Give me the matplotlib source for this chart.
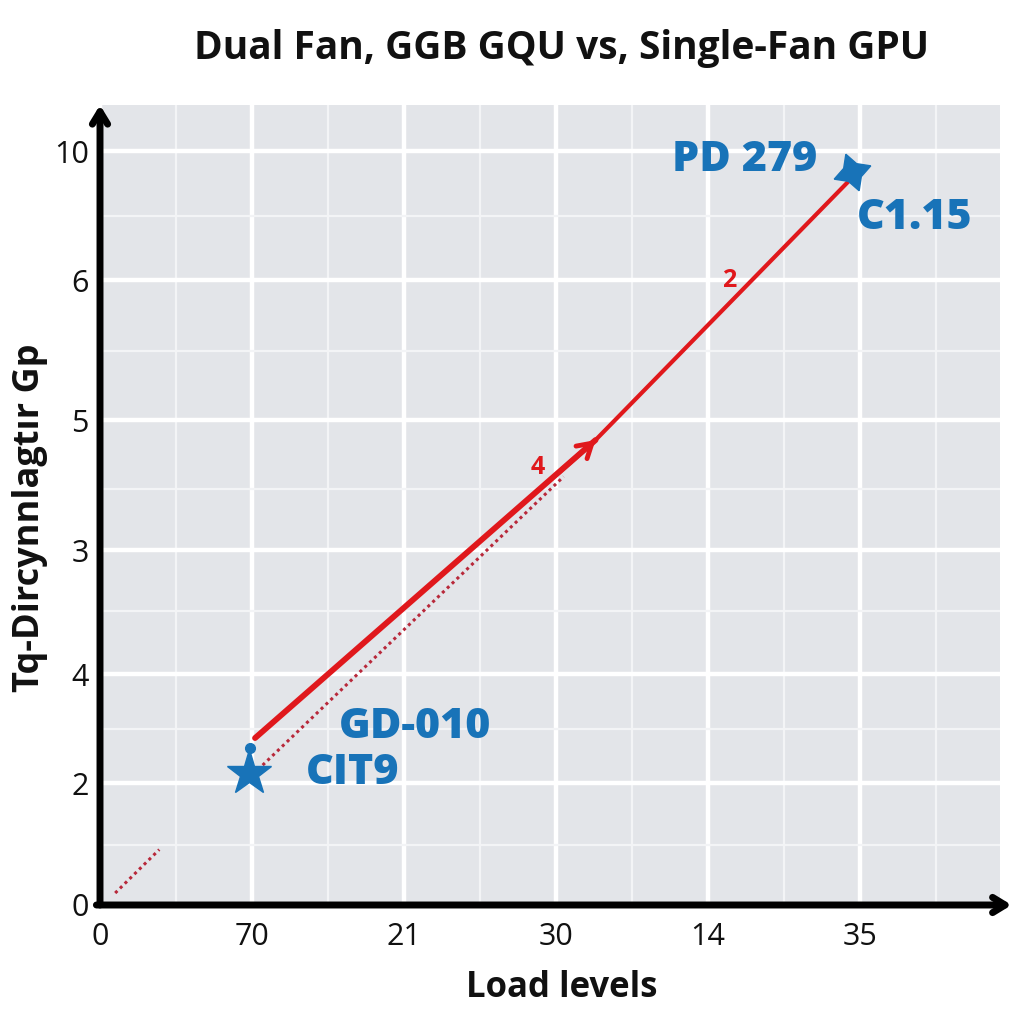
import matplotlib
matplotlib.use("Agg")
import matplotlib.pyplot as plt
from matplotlib.ticker import FixedLocator

# ---- data ----
title = "Dual Fan, GGB GQU vs, Single-Fan GPU"
x_label = "Load levels"
y_label = "Tq-Dircynnlagtır Gp"
x_tick_labels = ["0", "70", "21", "30", "14", "35"]
x_tick_pos = [0, 1, 2, 3, 4, 5]
y_tick_labels = ["0", "2", "4", "3", "5", "6", "10"]
y_tick_pos = [0, 0.968, 1.833, 2.817, 3.849, 4.960, 5.984]

solid_x = [1.02, 3.26]
solid_y = [1.325, 3.69]
solid2_x = [3.26, 4.93]
solid2_y = [3.69, 5.75]
dotted_x = [1.07, 3.05]
dotted_y = [1.11, 3.40]
short_dot_x = [0.10, 0.39]
short_dot_y = [0.095, 0.44]
star_lo = (0.98, 1.05)
dot_lo = (0.99, 1.25)
star_hi = (4.95, 5.82)

blue_labels = ["PD 279", "C1.15", "GD-010", "CIT9"]
blue_label_x = [4.24, 5.36, 2.07, 1.66]
blue_label_y = [5.91, 5.45, 1.41, 1.05]
red_labels = ["4", "2"]
red_label_x = [2.88, 4.14]
red_label_y = [3.47, 4.96]

RED = "#e0181c"
DRED = "#b8283a"
BLUE = "#1873b8"
BG = "#e3e5e9"

plt.rcParams['font.family'] = ['Open Sans', 'DejaVu Sans']

fig = plt.figure(figsize=(10.24, 10.24), dpi=100)
ax = fig.add_axes([100/1024, 119/1024, 900/1024, 800/1024])
ax.set_facecolor(BG)
ax.set_xlim(0, 900/152)
ax.set_ylim(0, 800/126)

# grid
ax.xaxis.set_major_locator(FixedLocator(x_tick_pos))
ax.yaxis.set_major_locator(FixedLocator(y_tick_pos))
ax.xaxis.set_minor_locator(FixedLocator([0.5, 1.5, 2.5, 3.5, 4.5, 5.5]))
ax.yaxis.set_minor_locator(FixedLocator([0.48, 1.4, 2.33, 3.3, 4.4, 5.47]))
ax.grid(which='major', color='white', lw=3.2)
ax.grid(which='minor', color='#f3f4f6', lw=1.6)
ax.set_axisbelow(True)
ax.tick_params(which='both', length=0)
ax.set_xticklabels(x_tick_labels, fontsize=22, color='#111111')
ax.set_yticklabels(y_tick_labels, fontsize=22, color='#111111')
ax.tick_params(axis='x', pad=12)
ax.tick_params(axis='y', pad=8)
for s in ax.spines.values():
    s.set_visible(False)

# axis arrows
ax.annotate('', xy=(0, 1.0), xytext=(0, 0), xycoords='axes fraction',
            arrowprops=dict(arrowstyle='->,head_length=0.9,head_width=0.55',
                            color='black', lw=5, shrinkA=0, shrinkB=0),
            annotation_clip=False)
ax.annotate('', xy=(1.013, 0), xytext=(-0.004, 0), xycoords='axes fraction',
            arrowprops=dict(arrowstyle='->,head_length=0.9,head_width=0.55',
                            color='black', lw=5, shrinkA=0, shrinkB=0),
            annotation_clip=False)

# lines
ax.plot(short_dot_x, short_dot_y, color=DRED, lw=2.2, ls=(0, (1, 1.2)))
ax.plot(dotted_x, dotted_y, color=DRED, lw=2.2, ls=(0, (1, 1.2)))
ax.plot(solid_x, solid_y, color=RED, lw=4.2, solid_capstyle='round')
ax.plot(solid2_x, solid2_y, color=RED, lw=3.0, solid_capstyle='round')
ax.annotate('', xy=(solid2_x[0], solid2_y[0]), xytext=(solid_x[0] + 2.0, solid_y[0] + 2.11),
            arrowprops=dict(arrowstyle='->,head_length=1.0,head_width=0.6',
                            color=RED, lw=3.5, shrinkA=0, shrinkB=0))

# markers
ax.plot([star_lo[0]], [star_lo[1]], marker='*', ms=34, color=BLUE, mec=BLUE)
ax.plot([dot_lo[0]], [dot_lo[1]], marker='o', ms=7, color=BLUE)
ax.plot([star_hi[0]], [star_hi[1]], marker=(4, 1, 20), ms=28, color=BLUE)

# labels
for t, x, y in zip(blue_labels, blue_label_x, blue_label_y):
    ax.text(x, y, t, color=BLUE, fontsize=31, fontweight='heavy', ha='center', va='center')
for t, x, y in zip(red_labels, red_label_x, red_label_y):
    ax.text(x, y, t, color=RED, fontsize=18, fontweight='bold', ha='center', va='center')

fig.text(562/1024, 1 - 48/1024, title, fontsize=28, fontweight='bold',
         ha='center', va='center', color='#111111')
fig.text(562/1024, 1 - 988/1024, x_label, fontsize=25, fontweight='bold',
         ha='center', va='center', color='#111111')
fig.text(30/1024, 1 - 518/1024, y_label, fontsize=26, fontweight='bold',
         ha='center', va='center', rotation=90, color='#111111')

fig.savefig('out.png', dpi=100, facecolor='white')
